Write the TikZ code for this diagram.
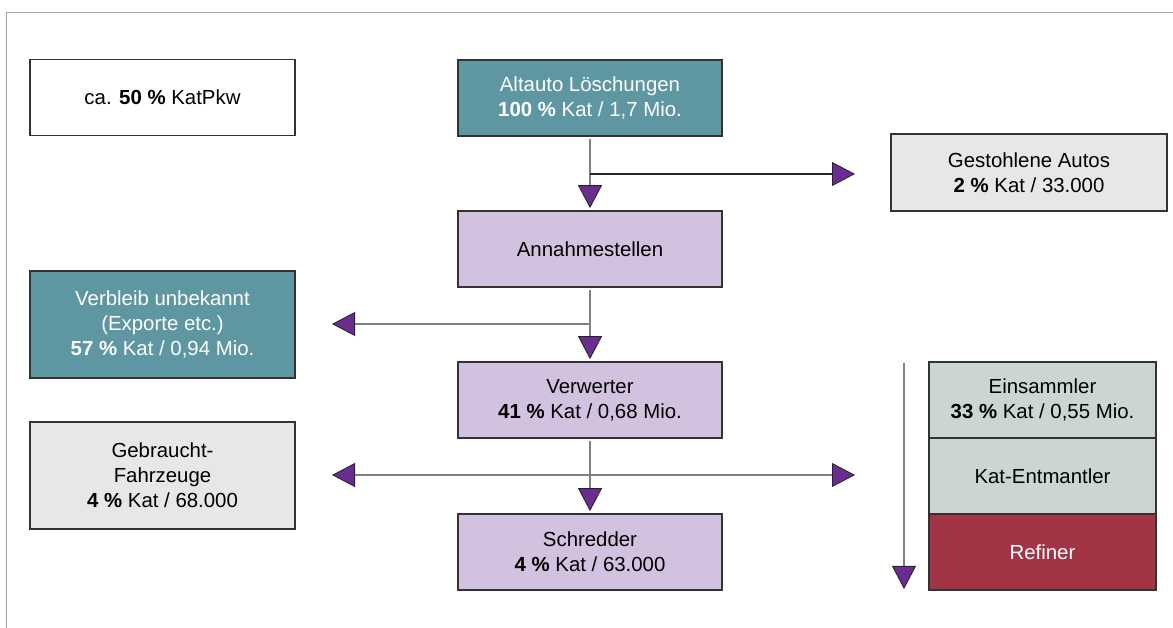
\documentclass[tikz,border=0pt]{standalone}
\usepackage{fontspec}
\setmainfont{Liberation Sans}
\usetikzlibrary{arrows.meta}
\definecolor{tealbox}{HTML}{5E96A1}
\definecolor{lilac}{HTML}{D2C2E0}
\definecolor{lightgrey}{HTML}{E6E7E8}
\definecolor{greygreen}{HTML}{CBD6D2}
\definecolor{refred}{HTML}{A33445}
\definecolor{purp}{HTML}{6B2C91}
\begin{document}
\begin{tikzpicture}[x=0.025cm,y=-0.025cm,
	box/.style={draw=black!80, line width=0.8pt, align=center, inner sep=0pt, outer sep=0pt,
		font=\fontsize{14.5}{17.7}\selectfont},
	sidebox/.style={box, minimum width=6.625cm, minimum height=1.9cm},
	midbox/.style={box, minimum width=6.6cm, minimum height=1.9cm, fill=lilac},
	stackbox/.style={box, minimum width=5.675cm, minimum height=1.9cm},
	flow/.style={draw=black!50, line width=1.2pt,
		-{Triangle[width=0.6cm,length=0.575cm,fill=purp,color=black!85,line width=0.6pt]}},
	flowboth/.style={flow,
		{Triangle[width=0.6cm,length=0.575cm,fill=purp,color=black!85,line width=0.6pt]}-{Triangle[width=0.6cm,length=0.575cm,fill=purp,color=black!85,line width=0.6pt]}}]
	\useasboundingbox (0,0) rectangle (1173,628);
	\draw[black!35, line width=1.2pt] (6.5,628) -- (6.5,12.5) -- (1173,12.5);

	\node[sidebox] (kat) at (162.5,97.5) {ca. \textbf{50 \%} KatPkw};
	\node[midbox, fill=tealbox, text=white] (alt) at (590,98) {Altauto Löschungen\\\textbf{100 \%} Kat / 1,7 Mio.};
	\node[box, minimum width=6.9cm, minimum height=1.925cm, fill=lightgrey] (gest) at (1029,172.5) {Gestohlene Autos\\\textbf{2 \%} Kat / 33.000};
	\node[midbox] (ann) at (590,249) {Annahmestellen};
	\node[sidebox, minimum height=2.675cm, fill=tealbox, text=white] (verb) at (162.5,324.5) {Verbleib unbekannt\\(Exporte etc.)\\\textbf{57 \%} Kat / 0,94 Mio.};
	\node[midbox] (verw) at (590,400) {Verwerter\\\textbf{41 \%} Kat / 0,68 Mio.};
	\node[sidebox, minimum height=2.675cm, fill=lightgrey] (gebr) at (162.5,475.5) {Gebraucht-\\Fahrzeuge\\\textbf{4 \%} Kat / 68.000};
	\node[midbox] (schr) at (590,552) {Schredder\\\textbf{4 \%} Kat / 63.000};
	\node[stackbox, fill=greygreen] (eins) at (1042.5,400) {Einsammler\\\textbf{33 \%} Kat / 0,55 Mio.};
	\node[stackbox, fill=greygreen] (entm) at (1042.5,476) {Kat-Entmantler};
	\node[stackbox, fill=refred, text=white] (ref) at (1042.5,552) {Refiner};

	% branch points and free ends
	\coordinate (b1) at (590,174);
	\coordinate (b2) at (590,324);
	\coordinate (b3) at (590,475);
	\coordinate (gestin) at (855,174);
	\coordinate (verbin) at (332,324);
	\coordinate (gebrin) at (332,475);
	\coordinate (stackin) at (855,475);
	\coordinate (r1) at (904,363);
	\coordinate (r2) at (904,589);

	\draw[flow] ([yshift=-2pt]alt.south) -- ([yshift=2pt]ann.north);
	\draw[flow, draw=black!85] (b1) -- (gestin);
	\draw[flow] ([yshift=-2pt]ann.south) -- ([yshift=2pt]verw.north);
	\draw[flow] (b2) -- (verbin);
	\draw[flow] ([yshift=-2pt]verw.south) -- ([yshift=2pt]schr.north);
	\draw[flowboth] (gebrin) -- (stackin);
	\draw[flow] (r1) -- (r2);
\end{tikzpicture}
\end{document}
